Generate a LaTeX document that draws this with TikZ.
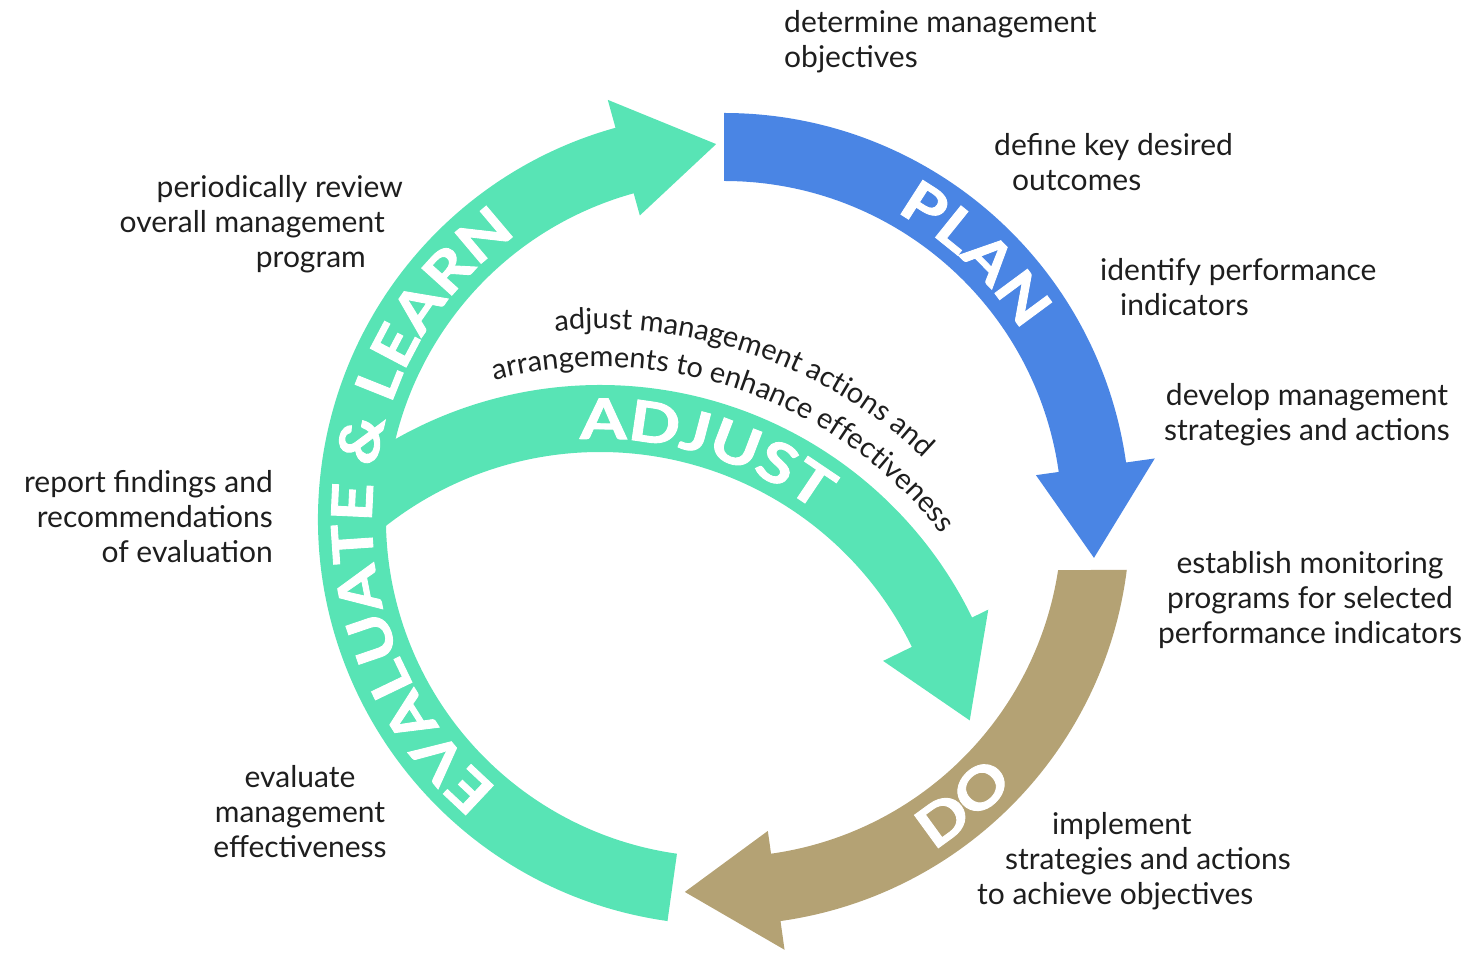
\documentclass[tikz,border=0pt]{standalone}
\usepackage{fontspec}
\setmainfont{Lato}
\newfontfamily\bandface[FakeStretch=1.2, FakeBold=1.6]{Lato}
\usepackage{xcolor}
\usepackage{tikz}
\usetikzlibrary{decorations.text}

\definecolor{learncol}{RGB}{88,228,181}
\definecolor{plancol}{RGB}{74,133,228}
\definecolor{docol}{RGB}{180,162,116}
\definecolor{inkcol}{RGB}{30,30,30}
\newcommand{\notefont}{\fontsize{30}{35}\selectfont}
\newcommand{\remarkfont}{\fontsize{29}{35}\selectfont}
\newcommand{\bandfont}{\bandface\bfseries\fontsize{56}{56}\selectfont\color{white}}

\begin{document}
\begin{tikzpicture}[x=1pt, y=1pt, inner sep=0pt,
  note/.style={font=\notefont, text=inkcol, align=center},
  bandtext/.style={decorate, decoration={text along path, text align=center, text={|\bandfont|#1}}},
  remark/.style={decorate, decoration={text along path, text align=center, text={|\remarkfont\color{inkcol}|#1}}}]
\useasboundingbox (0,0) rectangle (1473,953);
\coordinate (c0) at (724,434);
\coordinate (c1) at (600,154);

\fill[learncol] ([shift={(c1)}]132:414) arc[start angle=132, end angle=26, radius=414] -- ([shift={(c1)}]26:432) -- ([shift={(c1)}]12:378) -- ([shift={(c1)}]26:315) -- ([shift={(c1)}]26:347) arc[start angle=26, end angle=132, radius=347] -- cycle;
\fill[learncol] ([shift={(c0)}]262:406) arc[start angle=262, end angle=105.5, radius=406] -- ([shift={(c0)}]105.5:435) -- ([shift={(c0)}]91.2:375) -- ([shift={(c0)}]105.5:315) -- ([shift={(c0)}]105.5:338) arc[start angle=105.5, end angle=262, radius=338] -- cycle;
\fill[plancol] ([shift={(c0)}]90:406) arc[start angle=90, end angle=8, radius=406] -- ([shift={(c0)}]8:435) -- ([shift={(c0)}]-6:372) -- ([shift={(c0)}]8:315) -- ([shift={(c0)}]8:338) arc[start angle=8, end angle=90, radius=338] -- cycle;
\fill[docol] ([shift={(c0)}]-7.2:406) arc[start angle=-7.2, end angle=-82, radius=406] -- ([shift={(c0)}]-82:435) -- ([shift={(c0)}]-96:375) -- ([shift={(c0)}]-82:315) -- ([shift={(c0)}]-82:338) arc[start angle=-82, end angle=-8.7, radius=338] -- cycle;

\path[bandtext={PLAN}] ([shift={(c0)}]92:352) arc[start angle=92, end angle=1, radius=352];
\path[bandtext={DO}] ([shift={(c0)}]-75:392) arc[start angle=-75, end angle=-25, radius=392];
\path[bandtext={EVALUATE {\&} LEARN}] ([shift={(c0)}]254:352) arc[start angle=254, end angle=102, radius=352];
\path[bandtext={ADJUST}] ([shift={(c1)}]130:360) arc[start angle=130, end angle=16, radius=360];
\path[remark={adjust management actions and}] ([shift={(c1)}]130:470) arc[start angle=130, end angle=12, radius=470];
\path[remark={arrangements to enhance effectiveness}] ([shift={(c1)}]130:432) arc[start angle=130, end angle=12, radius=432];

\node[note, anchor=west, align=left] (n1) at (784,911) {determine management\\objectives};
\node[note, anchor=west, align=left] (n2) at (994,791) {define key desired\\\hspace*{18pt}outcomes};
\node[note, anchor=west, align=left] (n3) at (1100,666) {identify performance\\\hspace*{20pt}indicators};
\node[note] (n4) at (1307,538) {develop management\\strategies and actions};
\node[note] (n5) at (1310,353) {establish monitoring\\programs for selected\\performance indicators};
\node[note, anchor=west, align=left] (n6) at (977,92) {\hspace*{75pt}implement\\\hspace*{28pt}strategies and actions\\to achieve objectives};
\node[note] (n7) at (300,141) {evaluate\\management\\effectiveness};
\node[note, anchor=east, align=right] (n8) at (273,436) {report findings and\\recommendations\\of evaluation};
\node[note, anchor=east, align=right] (n9) at (403,729) {periodically review\\overall management\kern18pt\\program\kern37pt};
\end{tikzpicture}
\end{document}
